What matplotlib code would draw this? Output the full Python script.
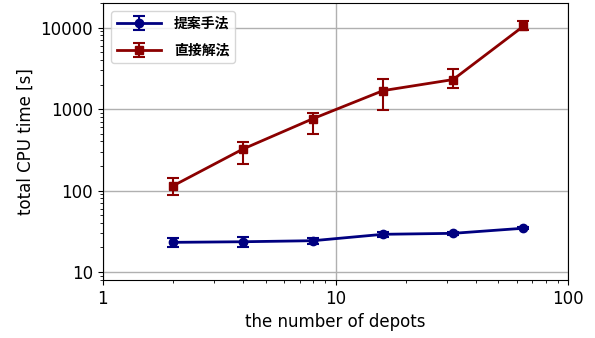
import matplotlib
matplotlib.use("Agg")
import matplotlib.pyplot as plt
from matplotlib.ticker import FixedLocator, FixedFormatter

depots = [2, 4, 8, 16, 32, 64]

# proposed method: mean and +/- spread
prop_mean = [23.1, 23.5, 24.2, 29.0, 29.8, 34.4]
prop_err = [3.0, 3.0, 2.0, 2.0, 1.5, 1.0]

# direct solution: mean with lower/upper bounds
direct_mean = [114, 323, 762, 1683, 2300, 10330]
direct_lo = [89, 211, 498, 984, 1830, 9230]
direct_hi = [143, 397, 904, 2366, 3140, 11900]

labels = ["提案手法", "直接解法"]

plt.rcParams["font.family"] = ["DejaVu Sans", "Noto Sans CJK JP"]

fig = plt.figure(figsize=(5.95, 3.38), dpi=100)
ax = fig.add_axes([0.173, 0.172, 0.782, 0.819])

ax.errorbar(depots, prop_mean, yerr=prop_err, color="#000080", marker="o",
            markersize=6, linewidth=2, capsize=4, capthick=1.5, elinewidth=1.5,
            label=labels[0])
d_err = [[m - lo for m, lo in zip(direct_mean, direct_lo)],
         [hi - m for m, hi in zip(direct_mean, direct_hi)]]
ax.errorbar(depots, direct_mean, yerr=d_err, color="#8b0000", marker="s",
            markersize=6, linewidth=2, capsize=4, capthick=1.5, elinewidth=1.5,
            label=labels[1])

ax.set_xscale("log")
ax.set_yscale("log")
ax.set_xlim(1, 100)
ax.set_ylim(8, 20000)

ax.xaxis.set_major_locator(FixedLocator([1, 10, 100]))
ax.xaxis.set_major_formatter(FixedFormatter(["1", "10", "100"]))
ax.yaxis.set_major_locator(FixedLocator([10, 100, 1000, 10000]))
ax.yaxis.set_major_formatter(FixedFormatter(["10", "100", "1000", "10000"]))
ax.tick_params(labelsize=12)

ax.grid(True, which="major", color="#b0b0b0", linewidth=1)
ax.set_xlabel("the number of depots", fontsize=12)
ax.set_ylabel("total CPU time [s]", fontsize=12)

leg = ax.legend(loc="upper left", handlelength=3.2, handletextpad=0.9,
                labelspacing=0.9, borderaxespad=0.6,
                prop={"family": ["Noto Sans CJK JP"], "weight": "bold", "size": 10})

fig.savefig("out.png", dpi=100)
